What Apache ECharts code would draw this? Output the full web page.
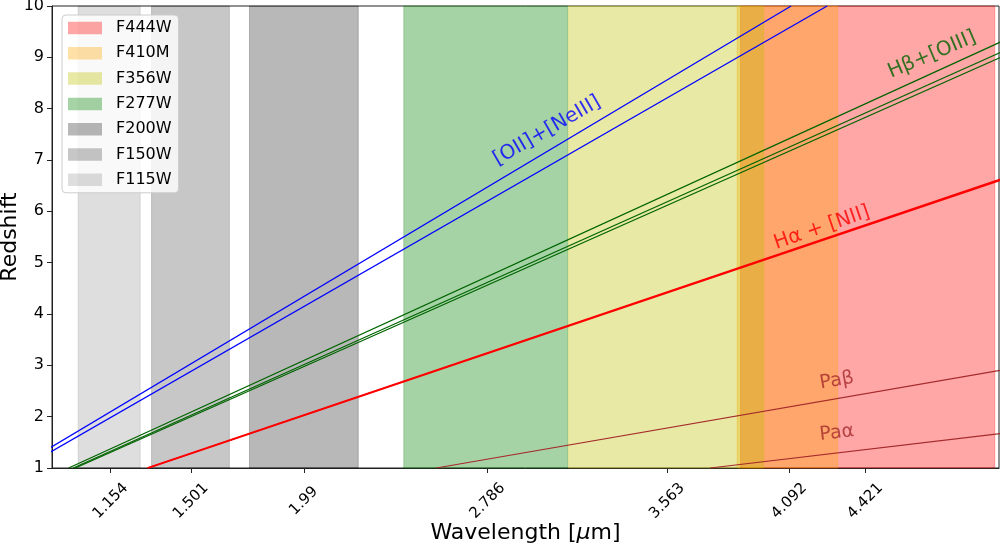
<!DOCTYPE html>
<html>
<head>
<meta charset="utf-8">
<script src="https://cdn.jsdelivr.net/npm/echarts@6/dist/echarts.min.js"></script>
<style>
    html, body { margin: 0; padding: 0; background: #fff; }
    #chart { width: 1000px; height: 547px; }
</style>
</head>
<body>
<div id="chart"></div>
<script>
// filters (legend order, drawn first -> last)
var bandNames = ['F444W', 'F410M', 'F356W', 'F277W', 'F200W', 'F150W', 'F115W'];
var bandLo = [3.881, 3.866, 3.135, 2.423, 1.755, 1.331, 1.013];
var bandHi = [4.982, 4.302, 3.981, 3.132, 2.226, 1.668, 1.282];
var bandColors = ['rgba(255,0,0,0.35)', 'rgba(255,165,0,0.35)', 'rgba(191,191,0,0.35)',
    'rgba(0,128,0,0.35)', 'rgba(0,0,0,0.28)', 'rgba(0,0,0,0.22)', 'rgba(0,0,0,0.13)'];

// x tick labels = filter pivot wavelengths
var tickValues = [1.154, 1.501, 1.99, 2.786, 3.563, 4.092, 4.421];

// emission lines: [wavelength, redshift] at z=1 and z=10
var oiiLine = [[0.745, 1], [4.100, 10]];
var neiiiLine = [[0.774, 1], [4.256, 10]];
var hbLine = [[0.972, 1], [5.347, 10]];
var oiii4959Line = [[0.992, 1], [5.455, 10]];
var oiii5007Line = [[1.001, 1], [5.508, 10]];
var haLine = [[1.313, 1], [7.219, 10]];
var niiLine = [[1.317, 1], [7.241, 10]];
var pabLine = [[2.564, 1], [14.10, 10]];
var paaLine = [[3.750, 1], [20.63, 10]];

// annotation texts and where they sit
var labelTexts = ['[OII]+[NeIII]', 'Hβ+[OIII]', 'Hα + [NII]', 'Paβ', 'Paα'];
var labelPos = [[3.043, 7.57], [4.710, 9.05], [4.233, 5.68], [4.298, 2.70], [4.298, 1.68]];

var FONT = 'DejaVu Sans';
var chart = echarts.init(document.getElementById('chart'), null, { renderer: 'canvas' });

var series = [];

bandNames.forEach(function (name, i) {
    series.push({
        name: name,
        type: 'line',
        data: [],
        silent: true,
        itemStyle: { color: bandColors[i] },
        lineStyle: { color: bandColors[i] },
        markArea: {
            silent: true,
            itemStyle: { color: bandColors[i], borderColor: bandColors[i], borderWidth: 0.8 },
            data: [[{ xAxis: bandLo[i] }, { xAxis: bandHi[i] }]]
        }
    });
});

function addLine(data, color, width) {
    series.push({
        type: 'line',
        data: data,
        symbol: 'none',
        silent: true,
        z: 5,
        clip: true,
        lineStyle: { color: color, width: width }
    });
}

addLine(oiiLine, '#0000ff', 1.3);
addLine(neiiiLine, '#0000ff', 1.3);
addLine(hbLine, '#006400', 1.3);
addLine(oiii4959Line, '#006400', 1.3);
addLine(oiii5007Line, '#006400', 1.3);
addLine(haLine, '#ff0000', 1.6);
addLine(niiLine, '#ff0000', 1.6);
addLine(pabLine, '#a52a2a', 1.2);
addLine(paaLine, '#a52a2a', 1.2);

var labelColors = ['#0000ff', '#006400', '#ff0000', '#a52a2a', '#a52a2a'];
var labelRot = [30, 23, 19, 10, 7];
var labelSize = [20, 20, 20, 19, 19];

series.push({
    type: 'scatter',
    symbolSize: 0,
    silent: true,
    z: 6,
    data: labelTexts.map(function (t, i) {
        return {
            value: labelPos[i],
            label: {
                show: true,
                position: 'inside',
                formatter: t,
                rotate: labelRot[i],
                color: labelColors[i],
                fontSize: labelSize[i],
                fontFamily: FONT,
                align: 'center',
                verticalAlign: 'middle'
            }
        };
    })
});

var option = {
    animation: false,
    backgroundColor: '#fff',
    grid: {
        left: 52, right: 1, top: 6, bottom: 79,
        show: true, borderColor: '#222', borderWidth: 1,
        outerBoundsMode: 'none'
    },
    legend: {
        data: bandNames,
        orient: 'vertical',
        left: 62,
        top: 15,
        icon: 'rect',
        itemWidth: 34,
        itemHeight: 12.5,
        itemGap: 9.3,
        padding: [5, 7, 5, 6],
        backgroundColor: 'rgba(255,255,255,0.8)',
        borderColor: '#cccccc',
        borderWidth: 1,
        borderRadius: 4,
        selectedMode: false,
        textStyle: { fontFamily: FONT, fontSize: 16, color: '#000', lineHeight: 16, padding: [0, 0, 0, 9] }
    },
    xAxis: {
        type: 'value',
        min: 0.9,
        max: 5.0,
        name: 'Wavelength [{i|μ}m]',
        nameLocation: 'middle',
        nameGap: 54,
        nameMoveOverlap: false,
        nameTextStyle: {
            fontFamily: FONT, fontSize: 22, color: '#000', verticalAlign: 'top',
            rich: { i: { fontFamily: FONT, fontSize: 22, fontStyle: 'italic', color: '#000' } }
        },
        splitLine: { show: false },
        axisLine: { onZero: false, lineStyle: { color: '#222' } },
        axisTick: { show: true, length: 5, lineStyle: { color: '#222' }, customValues: tickValues },
        axisLabel: {
            customValues: tickValues,
            rotate: 45,
            align: 'center',
            verticalAlign: 'middle',
            margin: 33,
            fontFamily: FONT,
            fontSize: 15,
            color: '#000'
        }
    },
    yAxis: {
        type: 'value',
        min: 1,
        max: 10,
        interval: 1,
        name: 'Redshift',
        nameLocation: 'middle',
        nameGap: 31,
        nameMoveOverlap: false,
        nameTextStyle: { fontFamily: FONT, fontSize: 22, color: '#000' },
        splitLine: { show: false },
        axisLine: { show: true, onZero: false, lineStyle: { color: '#222' } },
        axisTick: { show: true, length: 5, lineStyle: { color: '#222' } },
        axisLabel: { fontFamily: FONT, fontSize: 16, color: '#000', margin: 8 }
    },
    series: series
};

chart.setOption(option);
</script>
</body>
</html>
